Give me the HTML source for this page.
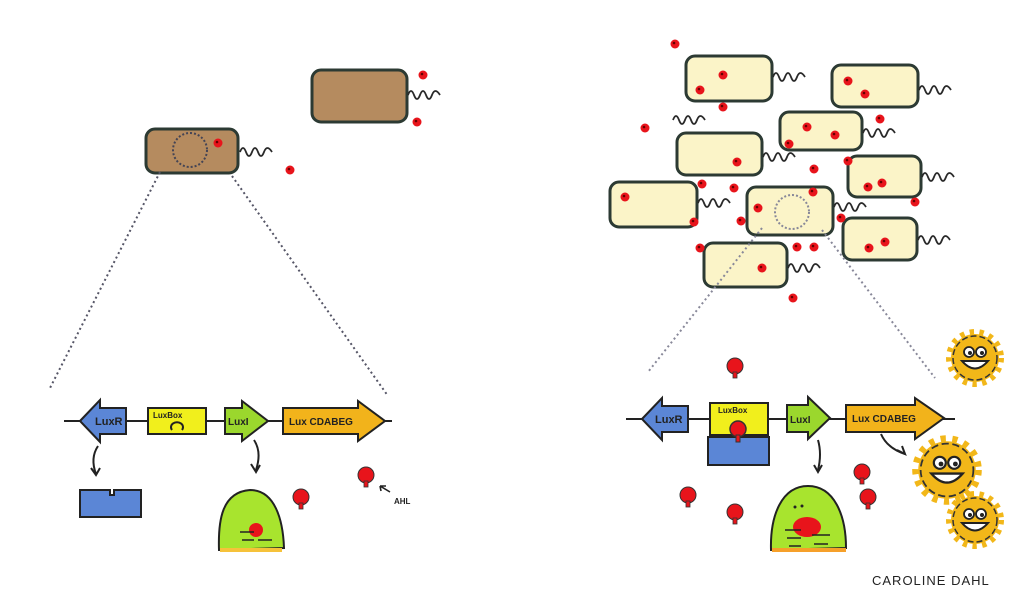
<!DOCTYPE html>
<html><head><meta charset="utf-8"><style>
html,body{margin:0;padding:0;background:#fff;width:1024px;height:603px;overflow:hidden}
svg{display:block}
text{font-family:"Liberation Sans",sans-serif;font-weight:bold;fill:#222}
</style></head><body>
<svg width="1024" height="603" viewBox="0 0 1024 603" xmlns="http://www.w3.org/2000/svg">
<defs>
<g id="dot"><circle r="4.5" fill="#e8141b"/><circle r="1.3" cx="-1" cy="-1" fill="#600"/></g>
<g id="tail"><path d="M0 0 q3 -8 6 0 t6 0 t6 0 t6 0 t8 0" fill="none" stroke="#2a2a2a" stroke-width="1.8"/></g>
<g id="ahl"><circle r="8" fill="#e8141b" stroke="#333" stroke-width="1"/><rect x="-2" y="6" width="4" height="6" fill="#e8141b" stroke="#333" stroke-width="0.8"/></g>
<g id="sun"><circle r="24" fill="#f2b719" stroke="#f2b719" stroke-width="10" stroke-dasharray="4 5"/><circle r="22" fill="#f2b719" stroke="#333" stroke-width="1.5" stroke-dasharray="6 3"/>
<ellipse cx="-6" cy="-6" rx="5" ry="5" fill="#fff" stroke="#222" stroke-width="1.8"/><ellipse cx="6" cy="-6" rx="5" ry="5" fill="#fff" stroke="#222" stroke-width="1.8"/>
<circle cx="-5" cy="-5" r="2" fill="#222"/><circle cx="7" cy="-5" r="2" fill="#222"/>
<path d="M-13 3 Q0 18 13 3 Z" fill="#fff" stroke="#222" stroke-width="2"/></g>
</defs>

<!-- LEFT: bacteria -->
<rect x="146" y="129" width="92" height="44" rx="9" fill="#b58b5f" stroke="#2c3a33" stroke-width="3"/>
<circle cx="190" cy="150" r="17" fill="none" stroke="#445" stroke-width="2" stroke-dasharray="2 2"/>
<use href="#dot" x="218" y="143"/>
<use href="#tail" x="240" y="152"/>
<rect x="312" y="70" width="95" height="52" rx="9" fill="#b58b5f" stroke="#2c3a33" stroke-width="3"/>
<use href="#tail" x="408" y="95"/>
<use href="#dot" x="423" y="75"/><use href="#dot" x="417" y="122"/><use href="#dot" x="290" y="170"/>
<line x1="160" y1="172" x2="50" y2="388" stroke="#556" stroke-width="2" stroke-dasharray="2 3"/>
<line x1="232" y1="176" x2="388" y2="396" stroke="#556" stroke-width="2" stroke-dasharray="2 3"/>

<!-- LEFT genes -->
<line x1="64" y1="421" x2="392" y2="421" stroke="#222" stroke-width="2"/>
<polygon points="80,421 100,400 100,408 126,408 126,434 100,434 100,442" fill="#5b86d6" stroke="#222" stroke-width="2"/>
<text x="95" y="425" font-size="11">LuxR</text>
<rect x="148" y="408" width="58" height="26" fill="#f1ef1c" stroke="#222" stroke-width="2"/>
<text x="153" y="418" font-size="8">LuxBox</text>
<path d="M172 430 a6 5 0 1 1 10 0" fill="none" stroke="#222" stroke-width="2"/>
<polygon points="225,408 242,408 242,401 268,421 242,441 242,434 225,434" fill="#9bd72d" stroke="#222" stroke-width="2"/>
<text x="228" y="425" font-size="10">LuxI</text>
<polygon points="283,408 358,408 358,401 385,421 358,441 358,434 283,434" fill="#f2b31b" stroke="#222" stroke-width="2"/>
<text x="289" y="425" font-size="10">Lux CDABEG</text>
<path d="M98 446 q-8 12 -2 28" fill="none" stroke="#222" stroke-width="2"/><path d="M91 468 l5 7 l4 -7" fill="none" stroke="#222" stroke-width="2"/>
<path d="M254 440 q8 12 2 30" fill="none" stroke="#222" stroke-width="2"/><path d="M251 464 l5 8 l4 -7" fill="none" stroke="#222" stroke-width="2"/>
<path d="M80 490 h30 v5 h4 v-5 h27 v27 h-61 z" fill="#5b86d6" stroke="#222" stroke-width="2"/>
<path d="M219 550 C218 520 222 492 250 490 C275 490 283 520 284 548 Z" fill="#a8e42e" stroke="#222" stroke-width="2"/>
<circle cx="256" cy="530" r="7" fill="#e8141b"/>
<path d="M240 532 h14 M242 540 h12 M258 540 h14" stroke="#222" stroke-width="1.6"/>
<rect x="220" y="548" width="62" height="4" fill="#f6c23a"/>
<use href="#ahl" x="301" y="497"/><use href="#ahl" x="366" y="475"/>
<path d="M390 492 l-10 -6 M380 486 l6 0 M380 486 l1 5" stroke="#222" stroke-width="1.6" fill="none"/>
<text x="394" y="504" font-size="8">AHL</text>

<!-- RIGHT bacteria -->
<g fill="#fbf4c8" stroke="#2c3a33" stroke-width="3">
<rect x="686" y="56" width="86" height="45" rx="9"/>
<rect x="832" y="65" width="86" height="42" rx="9"/>
<rect x="780" y="112" width="82" height="38" rx="9"/>
<rect x="677" y="133" width="85" height="42" rx="9"/>
<rect x="848" y="156" width="73" height="41" rx="9"/>
<rect x="610" y="182" width="87" height="45" rx="9"/>
<rect x="747" y="187" width="86" height="48" rx="9"/>
<rect x="843" y="218" width="74" height="42" rx="9"/>
<rect x="704" y="243" width="83" height="44" rx="9"/>
</g>
<use href="#tail" x="773" y="77"/><use href="#tail" x="919" y="90"/><use href="#tail" x="863" y="133"/>
<use href="#tail" x="763" y="157"/><use href="#tail" x="922" y="177"/><use href="#tail" x="698" y="203"/>
<use href="#tail" x="834" y="207"/><use href="#tail" x="918" y="240"/><use href="#tail" x="788" y="268"/>
<use href="#tail" x="673" y="120"/>
<circle cx="792" cy="212" r="17" fill="none" stroke="#889" stroke-width="2" stroke-dasharray="2 2"/>
<g>
<use href="#dot" x="675" y="44"/><use href="#dot" x="723" y="75"/><use href="#dot" x="700" y="90"/><use href="#dot" x="723" y="107"/>
<use href="#dot" x="848" y="81"/><use href="#dot" x="865" y="94"/><use href="#dot" x="645" y="128"/><use href="#dot" x="880" y="119"/>
<use href="#dot" x="807" y="127"/><use href="#dot" x="835" y="135"/><use href="#dot" x="789" y="144"/><use href="#dot" x="737" y="162"/>
<use href="#dot" x="814" y="169"/><use href="#dot" x="848" y="161"/><use href="#dot" x="868" y="187"/><use href="#dot" x="882" y="183"/>
<use href="#dot" x="702" y="184"/><use href="#dot" x="734" y="188"/><use href="#dot" x="625" y="197"/><use href="#dot" x="813" y="192"/>
<use href="#dot" x="915" y="202"/><use href="#dot" x="758" y="208"/><use href="#dot" x="841" y="218"/><use href="#dot" x="694" y="222"/>
<use href="#dot" x="741" y="221"/><use href="#dot" x="700" y="248"/><use href="#dot" x="797" y="247"/><use href="#dot" x="814" y="247"/>
<use href="#dot" x="869" y="248"/><use href="#dot" x="885" y="242"/><use href="#dot" x="762" y="268"/><use href="#dot" x="793" y="298"/>
</g>
<line x1="762" y1="228" x2="648" y2="372" stroke="#889" stroke-width="2" stroke-dasharray="2 3"/>
<line x1="822" y1="230" x2="935" y2="378" stroke="#889" stroke-width="2" stroke-dasharray="2 3"/>

<!-- RIGHT genes -->
<line x1="626" y1="419" x2="955" y2="419" stroke="#222" stroke-width="2"/>
<polygon points="642,419 662,398 662,406 688,406 688,432 662,432 662,440" fill="#5b86d6" stroke="#222" stroke-width="2"/>
<text x="655" y="423" font-size="11">LuxR</text>
<rect x="710" y="403" width="58" height="32" fill="#f1ef1c" stroke="#222" stroke-width="2"/>
<text x="718" y="413" font-size="8">LuxBox</text>
<rect x="708" y="437" width="61" height="28" fill="#5b86d6" stroke="#222" stroke-width="2"/>
<circle cx="738" cy="429" r="8" fill="#e8141b" stroke="#333" stroke-width="1.5"/>
<rect x="736" y="435" width="4" height="7" fill="#e8141b" stroke="#333"/>
<polygon points="787,405 808,405 808,397 830,418 808,439 808,432 787,432" fill="#9bd72d" stroke="#222" stroke-width="2"/>
<text x="790" y="423" font-size="10">LuxI</text>
<polygon points="846,405 915,405 915,398 944,418 915,439 915,432 846,432" fill="#f2b31b" stroke="#222" stroke-width="2"/>
<text x="852" y="422" font-size="10">Lux CDABEG</text>
<path d="M818 440 q4 14 0 30" fill="none" stroke="#222" stroke-width="2"/><path d="M814 465 l4 7 l4 -7" fill="none" stroke="#222" stroke-width="2"/>
<path d="M881 434 q6 14 24 20" fill="none" stroke="#222" stroke-width="2"/><path d="M897 450 l8 4 l-3 -8" fill="none" stroke="#222" stroke-width="2"/>
<path d="M771 550 C770 515 782 486 808 486 C834 486 846 515 846 548 Z" fill="#a8e42e" stroke="#222" stroke-width="2"/>
<ellipse cx="807" cy="527" rx="14" ry="10" fill="#e8141b"/>
<path d="M785 530 h16 M787 538 h14 M789 546 h12 M812 535 h18 M814 544 h14" stroke="#222" stroke-width="1.6"/>
<circle cx="795" cy="507" r="1.5" fill="#222"/><circle cx="802" cy="506" r="1.5" fill="#222"/>
<rect x="772" y="548" width="74" height="4" fill="#f6a02a"/>
<use href="#ahl" x="735" y="366"/><use href="#ahl" x="688" y="495"/><use href="#ahl" x="735" y="512"/>
<use href="#ahl" x="862" y="472"/><use href="#ahl" x="868" y="497"/>
<use href="#sun" x="975" y="358"/>
<use href="#sun" x="947" y="470" transform="translate(947 470) scale(1.2) translate(-947 -470)"/>
<use href="#sun" x="975" y="520"/>
<text x="872" y="585" font-size="13" font-weight="normal" style="font-weight:normal" fill="#444" letter-spacing="1">CAROLINE DAHL</text>
</svg>
</body></html>
